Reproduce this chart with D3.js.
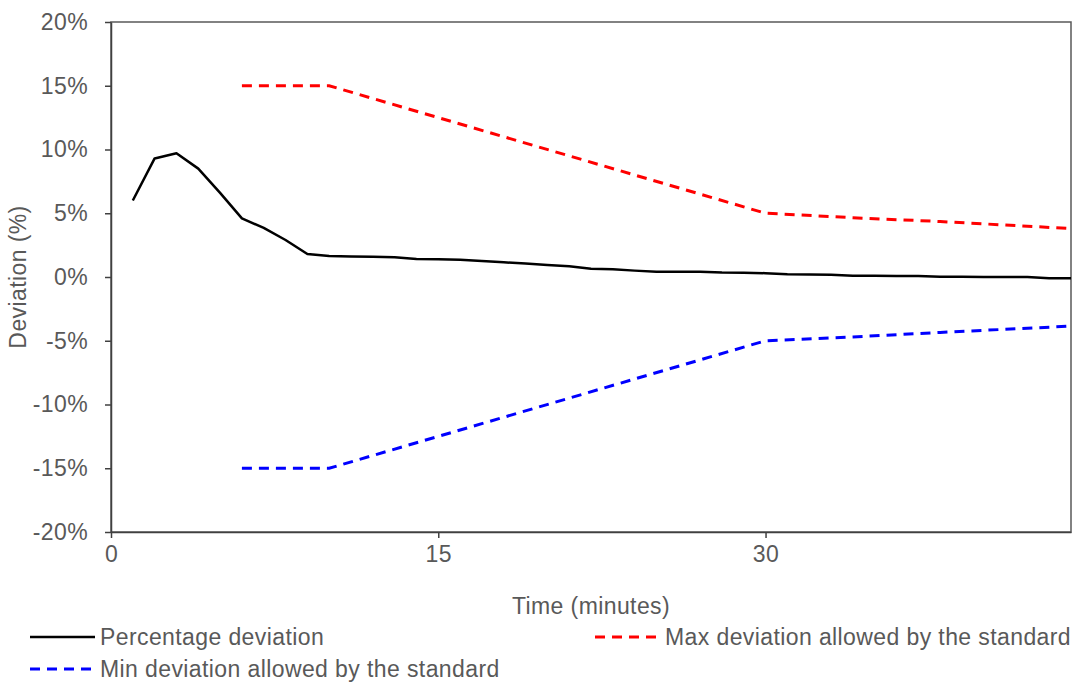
<!DOCTYPE html>
<html lang="en">
<head>
<meta charset="utf-8">
<script src="https://d3js.org/d3.v7.min.js"></script>
<style>
  body { margin: 0; background: #fff; }
  svg { display: block; font-family: "Liberation Sans", Arial, sans-serif; }
  .lbl { font-size: 23px; letter-spacing: 0.4px; fill: #595959; }
</style>
</head>
<body>
<svg id="chart" width="1078" height="683"></svg>
<script>
// measured series (minutes, % deviation)
var minutes = [1, 2, 3, 4, 5, 6, 7, 8, 9, 10, 11, 12, 13, 14, 15, 16, 17, 18, 19, 20, 21, 22,
  23, 24, 25, 26, 27, 28, 29, 30, 31, 32, 33, 34, 35, 36, 37, 38, 39, 40, 41, 42, 43, 44];
var deviation = [6.0, 9.3, 9.7, 8.5, 6.6, 4.6, 3.85, 2.9, 1.8, 1.65, 1.6, 1.58, 1.55, 1.42, 1.4, 1.35,
  1.25, 1.15, 1.05, 0.95, 0.85, 0.65, 0.6, 0.5, 0.42, 0.42, 0.42, 0.35, 0.33, 0.3, 0.22, 0.2,
  0.18, 0.1, 0.1, 0.08, 0.08, 0.02, 0.02, 0.0, 0.0, 0.0, -0.1, -0.1];

// limits allowed by the standard
var limitMinutes = [6, 10, 30, 34, 38, 44];
var maxLimit = [15, 15, 5, 4.65, 4.35, 3.8];
var minLimit = [-15, -15, -5, -4.7, -4.35, -3.85];

var xTicks = [0, 15, 30];
var yTicks = [-20, -15, -10, -5, 0, 5, 10, 15, 20];

var margin = { top: 22, right: 7, bottom: 151, left: 111 },
  width = 1078 - margin.left - margin.right,
  height = 683 - margin.top - margin.bottom;

var svg = d3.select('#chart');
var g = svg.append('g')
  .attr('transform', 'translate(' + margin.left + ',' + margin.top + ')');

var x = d3.scaleLinear().domain([0, 44]).range([0, width]);
var y = d3.scaleLinear().domain([-20, 20]).range([height, 0]);

// plot area border
g.append('rect')
  .attr('width', width)
  .attr('height', height)
  .attr('fill', 'none')
  .attr('stroke', '#595959')
  .attr('stroke-width', 1.5);

var xAxis = g.append('g')
  .attr('transform', 'translate(0,' + height + ')')
  .call(d3.axisBottom(x).tickValues(xTicks).tickSize(6).tickSizeOuter(0).tickPadding(8));

var yAxis = g.append('g')
  .call(d3.axisLeft(y).tickValues(yTicks).tickSize(6).tickSizeOuter(0).tickPadding(17)
    .tickFormat(function(d) { return d + '%'; }));

[xAxis, yAxis].forEach(function(ax) {
  ax.attr('font-size', null).attr('font-family', null);
  ax.select('.domain').attr('stroke', '#404040').attr('stroke-width', 1.5);
  ax.selectAll('.tick line').attr('stroke', '#404040').attr('stroke-width', 1.5);
  ax.selectAll('.tick text').attr('class', 'lbl').attr('fill', null);
});

var line = d3.line()
  .x(function(d) { return x(d[0]); })
  .y(function(d) { return y(d[1]); });

g.append('path')
  .datum(d3.zip(limitMinutes, maxLimit))
  .attr('d', line)
  .attr('fill', 'none')
  .attr('stroke', '#ff0000')
  .attr('stroke-width', 3)
  .attr('stroke-dasharray', '10,7');

g.append('path')
  .datum(d3.zip(limitMinutes, minLimit))
  .attr('d', line)
  .attr('fill', 'none')
  .attr('stroke', '#0000ff')
  .attr('stroke-width', 3)
  .attr('stroke-dasharray', '10,7');

g.append('path')
  .datum(d3.zip(minutes, deviation))
  .attr('d', line)
  .attr('fill', 'none')
  .attr('stroke', '#000')
  .attr('stroke-width', 2.5)
  .attr('stroke-linejoin', 'round');

// axis titles
svg.append('text')
  .attr('class', 'lbl')
  .attr('x', margin.left + width / 2)
  .attr('y', 614)
  .attr('text-anchor', 'middle')
  .text('Time (minutes)');

svg.append('text')
  .attr('class', 'lbl')
  .attr('transform', 'translate(26,' + (margin.top + height / 2) + ') rotate(-90)')
  .attr('text-anchor', 'middle')
  .text('Deviation (%)');

// legend
var legendItems = [
  { label: 'Percentage deviation', color: '#000', dash: null, x: 30, y: 637 },
  { label: 'Max deviation allowed by the standard', color: '#ff0000', dash: '10,7', x: 595, y: 637 },
  { label: 'Min deviation allowed by the standard', color: '#0000ff', dash: '10,7', x: 30, y: 669 }
];

var legend = svg.selectAll('.legend')
  .data(legendItems)
  .enter()
  .append('g')
  .attr('class', 'legend')
  .attr('transform', function(d) { return 'translate(' + d.x + ',' + d.y + ')'; });

legend.append('line')
  .attr('x1', 0).attr('x2', 65)
  .attr('stroke', function(d) { return d.color; })
  .attr('stroke-width', function(d) { return d.dash ? 3 : 2.5; })
  .attr('stroke-dasharray', function(d) { return d.dash; });

legend.append('text')
  .attr('class', 'lbl')
  .attr('x', 70)
  .attr('dy', '0.35em')
  .text(function(d) { return d.label; });
</script>
</body>
</html>
